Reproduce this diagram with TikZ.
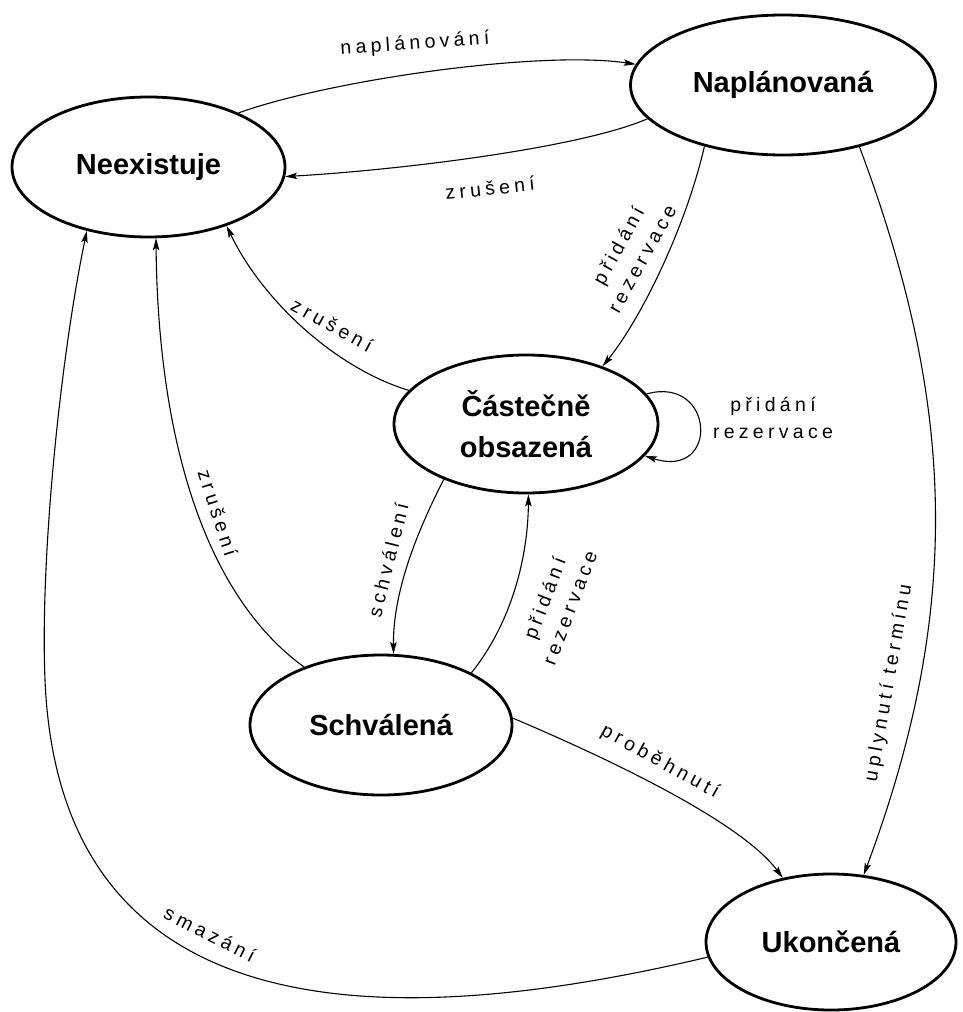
\documentclass[tikz,border=0pt]{standalone}
\usepackage{fontspec}
\usetikzlibrary{arrows.meta,shapes.geometric}
\newfontfamily\statefont{Liberation Sans}
\newfontfamily\labfont[LetterSpace=22]{Liberation Sans}
\begin{document}
\begin{tikzpicture}[x=1pt,y=-1pt,
  state/.style={draw,ellipse,line width=2.8pt,inner sep=0pt,align=center,
    font=\statefont\bfseries\fontsize{29}{41}\selectfont},
  tr/.style={line width=1.1pt,-{Stealth[length=12pt,width=6.5pt,inset=2.5pt]}},
  lab/.style={inner sep=0pt,align=center,font=\labfont\fontsize{19.5}{27}\selectfont}]
\useasboundingbox (0,0) rectangle (962,1012);

% states
\node[state,minimum width=273pt,minimum height=140pt] (ne) at (148.5,167) {Neexistuje};
\node[state,minimum width=305pt,minimum height=140pt] (na) at (783,85) {Naplánovaná};
\node[state,minimum width=264pt,minimum height=138pt] (ca) at (526,424) {Částečně\\obsazená};
\node[state,minimum width=262pt,minimum height=140pt] (sc) at (381,725) {Schválená};
\node[state,minimum width=250pt,minimum height=136pt] (uk) at (831,942) {Ukončená};

% transitions
\draw[tr] (ne.31) .. controls (330,80) and (540,50) .. (na.172);
\node[lab,rotate=4] (l1) at (415,44) {naplánování};

\draw[tr] (na.194) .. controls (580,148) and (400,170) .. (ne.-4);
\node[lab,rotate=6] (l2) at (490,188) {zrušení};

\draw[tr] (na.218) .. controls (685,230) and (640,320) .. (ca.37);
\node[lab,rotate=61] (l3) at (630,252) {přidání\\rezervace};

\draw[tr] (ca.14) .. controls (715,375) and (720,480) .. (ca.-15);
\node[lab] (l4) at (773,418) {přidání\\rezervace};

\draw[tr] (ca.164) .. controls (335,368) and (262,300) .. (ne.-37);
\node[lab,rotate=-29] (l5) at (332,325) {zrušení};

\draw[tr] (ca.214) .. controls (410,545) and (393,600) .. (sc.80);
\node[lab,rotate=76] (l6) at (388,560) {schválení};

\draw[tr] (sc.30) .. controls (510,625) and (528,560) .. (ca.272);
\node[lab,rotate=69] (l7) at (557,603) {přidání\\rezervace};

\draw[tr] (sc.143) .. controls (205,595) and (158,440) .. (ne.-84);
\node[lab,rotate=-72] (l8) at (218,513) {zrušení};

\draw[tr] (sc.3) .. controls (600,755) and (740,820) .. (uk.127);
\node[lab,rotate=-29] (l9) at (660,762) {proběhnutí};

\draw[tr] (na.-39) .. controls (957,407) and (962,611) .. (uk.64);
\node[lab,rotate=80] (l10) at (889,683) {uplynutí termínu};

\coordinate (lowleft) at (45,680);
\draw[tr] (uk.187) .. controls (400,1030) and (60,1040) .. (lowleft)
  .. controls (40,560) and (60,360) .. (ne.226);
\node[lab,rotate=-27] (l11) at (210,934) {smazání};
\end{tikzpicture}
\end{document}
